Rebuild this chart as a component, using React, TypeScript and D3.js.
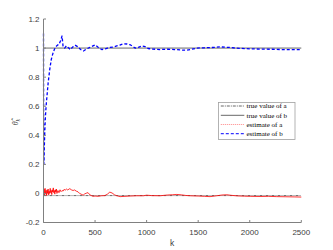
import React from "react";
import * as d3 from "d3";

const xTicks = [0, 500, 1000, 1500, 2000, 2500];
const yTicks = [-0.2, 0, 0.2, 0.4, 0.6, 0.8, 1, 1.2];
const yTickLabels = ["-0.2", "0", "0.2", "0.4", "0.6", "0.8", "1", "1.2"];

const trueA = -0.015;
const trueB = 1;
const kMax = 2500;

const kB = [0, 2, 5, 8, 12, 18, 25, 35, 45, 60, 75, 90, 105, 120, 135, 150, 165, 180, 190, 205, 222, 245, 260, 280, 306, 330, 360, 387, 420, 450, 480, 500, 530, 565, 600, 640, 675, 710, 740, 775, 810, 840, 870, 888, 920, 953, 985, 1015, 1060, 1130, 1200, 1270, 1330, 1390, 1440, 1487, 1550, 1615, 1660, 1713, 1760, 1810, 1860, 1910, 2000, 2100, 2200, 2300, 2390, 2500];
const estB = [1.1, 0.2, 0.22, 0.32, 0.42, 0.52, 0.6, 0.68, 0.76, 0.85, 0.92, 0.96, 0.99, 1.01, 1.02, 1.025, 1.05, 1.083, 1.01, 1.0, 1.015, 1.0, 0.99, 1.005, 1.02, 1.01, 0.99, 0.98, 0.995, 1.005, 1.015, 1.022, 1.005, 0.99, 0.995, 1.005, 1.007, 1.015, 1.02, 1.03, 1.028, 1.023, 1.01, 1.0, 1.005, 1.015, 1.01, 0.997, 0.993, 0.99, 0.992, 0.99, 0.987, 0.985, 0.992, 1.0, 1.002, 1.003, 1.005, 1.008, 1.006, 1.004, 1.0, 0.998, 0.995, 0.993, 0.992, 0.99, 0.99, 0.989];

const kA = [0, 5, 10, 15, 20, 25, 30, 35, 40, 45, 50, 55, 60, 65, 70, 75, 80, 85, 90, 95, 100, 105, 110, 115, 120, 125, 130, 140, 150, 160, 170, 180, 190, 200, 210, 222, 235, 255, 270, 287, 300, 320, 335, 350, 365, 384, 400, 420, 432, 450, 480, 500, 530, 560, 594, 620, 643, 665, 690, 707, 743, 790, 840, 900, 969, 1000, 1050, 1130, 1200, 1250, 1293, 1340, 1380, 1422, 1500, 1560, 1615, 1680, 1730, 1777, 1820, 1880, 1950, 2004, 2100, 2180, 2262, 2350, 2430, 2500];
const estA = [0.0, 0.03, -0.01, 0.035, -0.005, 0.02, -0.015, 0.025, 0.0, 0.03, -0.01, 0.015, 0.0, 0.035, 0.005, 0.02, -0.008, 0.025, 0.01, 0.038, 0.005, 0.02, -0.005, 0.025, 0.01, 0.03, 0.0, 0.02, 0.005, 0.025, 0.012, 0.02, 0.016, 0.028, 0.022, 0.03, 0.024, 0.033, 0.025, 0.02, 0.024, 0.015, 0.011, 0.0, -0.005, -0.012, -0.003, 0.003, 0.005, -0.01, -0.02, -0.018, -0.02, -0.016, -0.015, -0.005, 0.009, 0.003, -0.01, -0.015, -0.022, -0.02, -0.018, -0.016, -0.016, -0.012, -0.015, -0.016, -0.011, -0.009, -0.007, -0.01, -0.014, -0.016, -0.018, -0.02, -0.022, -0.016, -0.011, -0.009, -0.013, -0.017, -0.019, -0.02, -0.021, -0.02, -0.022, -0.023, -0.024, -0.025];

const legendLabels = ["true value of a", "true value of b", "estimate of a", "estimate of b"];

export default function App() {
  const W = 333, H = 250;
  const x = d3.scaleLinear().domain([0, 2500]).range([43.5, 301.3]);
  const y = d3.scaleLinear().domain([-0.2, 1.2]).range([222.5, 19]);
  const line = d3.line<[number, number]>().x(d => x(d[0])).y(d => y(d[1]));
  const pathA = line(kA.map((k, i) => [k, estA[i]] as [number, number])) || "";
  const pathB = line(kB.map((k, i) => [k, estB[i]] as [number, number])) || "";
  const axisColor = "#808080";
  const labelColor = "#404040";
  const font = "'Liberation Sans', Arial, sans-serif";
  const serif = "'Liberation Serif', 'Times New Roman', serif";

  const legX = 218.5, legY = 102.5, legW = 76.5, legH = 37;
  const rowY = [106, 115.3, 124.5, 133.6];
  const legendStyles = [
    { stroke: "#000", width: 0.6, dash: "3,1,1,1", opacity: 1 },
    { stroke: "#000", width: 0.6, dash: "", opacity: 1 },
    { stroke: "#ff0000", width: 0.8, dash: "1,1", opacity: 0.6 },
    { stroke: "#0000ff", width: 1.3, dash: "3,2", opacity: 0.8 },
  ];

  return (
    <svg width={W} height={H} style={{ position: "absolute", left: 0, top: 0, background: "#fff" }}>
      <rect x={0} y={0} width={W} height={H} fill="#fff" />
      {/* true value lines */}
      <line x1={x(0)} x2={x(kMax)} y1={y(trueB)} y2={y(trueB)} stroke="#000" strokeWidth={0.6} />
      <line x1={x(0)} x2={x(kMax)} y1={y(trueA)} y2={y(trueA)} stroke="#000" strokeWidth={0.6} strokeDasharray="3,1,1,1" />
      {/* estimates */}
      <path d={pathA} fill="none" stroke="#ff0000" strokeWidth={0.8} strokeLinejoin="round" />
      <path d={pathB} fill="none" stroke="#0000ff" strokeWidth={1.3} strokeDasharray="3,2" strokeLinejoin="round" />
      {/* axes */}
      <line x1={x(0)} x2={x(2500)} y1={y(-0.2)} y2={y(-0.2)} stroke={axisColor} strokeWidth={1} />
      <line x1={x(0)} x2={x(0)} y1={y(-0.2)} y2={y(1.2)} stroke={axisColor} strokeWidth={1} />
      {xTicks.map(t => (
        <g key={"x" + t}>
          <line x1={x(t)} x2={x(t)} y1={y(-0.2)} y2={y(-0.2) - 2.5} stroke={axisColor} strokeWidth={1} />
          <text x={x(t)} y={234.5} fontSize={8} fontFamily={font} fill={labelColor} textAnchor="middle">{t}</text>
        </g>
      ))}
      {yTicks.map((t, i) => (
        <g key={"y" + t}>
          <line x1={x(0)} x2={x(0) + 2.5} y1={y(t)} y2={y(t)} stroke={axisColor} strokeWidth={1} />
          <text x={39.5} y={y(t) + 2.8} fontSize={8} fontFamily={font} fill={labelColor} textAnchor="end">{yTickLabels[i]}</text>
        </g>
      ))}
      <text x={172} y={245.5} fontSize={8.5} fontFamily={font} fill={labelColor} textAnchor="middle">k</text>
      <text transform="translate(18,122) rotate(-90)" fontSize={8} fontFamily={serif} fontStyle="italic" fill={labelColor} textAnchor="middle">
        θ̂<tspan fontSize={6} dy={2}>k</tspan>
      </text>
      {/* legend */}
      <rect x={legX} y={legY} width={legW} height={legH} fill="#fff" stroke="#a0a0a0" strokeWidth={0.8} />
      {legendLabels.map((lab, i) => (
        <g key={lab}>
          <line x1={220.8} x2={244.3} y1={rowY[i]} y2={rowY[i]} stroke={legendStyles[i].stroke} strokeWidth={legendStyles[i].width} strokeDasharray={legendStyles[i].dash} strokeOpacity={legendStyles[i].opacity} />
          <text x={246.5} y={rowY[i] + 2.3} fontSize={7} fontFamily={serif} fill="#000">{lab}</text>
        </g>
      ))}
    </svg>
  );
}
